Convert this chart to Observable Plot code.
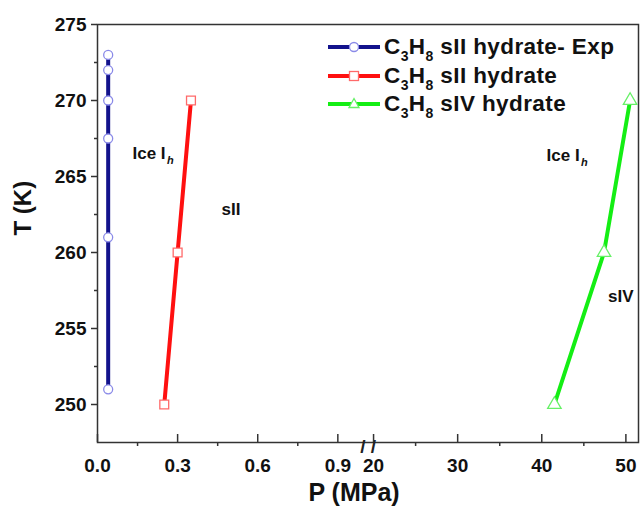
<!DOCTYPE html>
<html>
<head>
<meta charset="utf-8">
<script src="https://cdn.jsdelivr.net/npm/d3@7"></script>
<script src="https://cdn.jsdelivr.net/npm/@observablehq/plot@0.6"></script>
<style>
  html, body { margin: 0; padding: 0; background: #fff; }
  #wrap { position: relative; width: 641px; height: 514px; font-family: "Liberation Sans", Arial, sans-serif; }
  #legend { position: absolute; left: 328px; top: 33px; font-weight: bold; font-size: 22.5px; letter-spacing: 0.4px; color: #111; }
  #legend .row { display: flex; align-items: center; height: 28.5px; white-space: nowrap; }
  #legend svg { margin-right: 4px; flex: none; }
  #legend sub { font-size: 14px; vertical-align: -7px; line-height: 0; }
</style>
</head>
<body>
<div id="wrap"></div>
<script>
// ---- data ----
const expP = [0.04, 0.04, 0.04, 0.04, 0.04, 0.04];
const expT = [251, 261, 267.5, 270, 272, 273];
const sIIP = [0.25, 0.30, 0.35];
const sIIT = [250, 260, 270];
const sIVP = [41.5, 47.4, 50.5];
const sIVT = [250, 260, 270];

const seriesNames = ["C3H8 sII hydrate- Exp", "C3H8 sII hydrate", "C3H8 sIV hydrate"];
const seriesColors = ["#12128c", "#ff1010", "#14ee14"];
const markerColors = ["#8a8ae8", "#ff6a6a", "#66f066"];
const markerSymbols = ["circle", "square", "triangle"];

const xMajor = [0, 0.3, 0.6, 0.9, 20, 30, 40, 50];
const xMajorLabels = ["0.0", "0.3", "0.6", "0.9", "20", "30", "40", "50"];
const xMinor = [0.15, 0.45, 0.75, 25, 35, 45];
const yMajor = [250, 255, 260, 265, 270, 275];
const yMinor = [252.5, 257.5, 262.5, 267.5, 272.5];

const iceLabels = [{p: 0.255, T: 266.5}, {p: 44.5, T: 266.4}];
const phaseLabels = [{p: 0.50, T: 262.8, text: "sII"}, {p: 49.4, T: 257.1, text: "sIV"}];

const breakLeft = 1.0, breakRight = 20, pMax = 51.5;

// ---- broken-axis mapping (left segment 0–1 MPa, right segment 20–51.5 MPa) ----
const leftScale = 266.7;   // units per MPa on left segment
const rightScale = 8.4;    // units per MPa on right segment
const gap = 9;
const brk = p => p <= breakLeft ? p * leftScale : breakLeft * leftScale + gap + (p - breakRight) * rightScale;

const mk = (P, T, s) => P.map((p, i) => ({p, T: T[i], s}));
const series = [mk(expP, expT, 0), mk(sIIP, sIIT, 1), mk(sIVP, sIVT, 2)];

const labelMap = new Map(xMajor.map((v, i) => [brk(v), xMajorLabels[i]]));
const font = "'Liberation Sans', Arial, sans-serif";

const marks = [Plot.frame({stroke: "#333", strokeWidth: 1.5})];
series.forEach((d, i) => {
  marks.push(Plot.line(d, {x: e => brk(e.p), y: "T", stroke: seriesColors[i], strokeWidth: 4}));
});
series.forEach((d, i) => {
  marks.push(Plot.dot(d, {x: e => brk(e.p), y: "T", symbol: () => markerSymbols[i], r: i === 0 ? 4.5 : 5,
    stroke: markerColors[i], fill: "white", strokeWidth: 1.3}));
});
marks.push(
  Plot.text(iceLabels, {x: d => brk(d.p), y: "T", text: () => "Ice I", textAnchor: "end", fontSize: 17, fontWeight: "bold", fill: "#111"}),
  Plot.text(iceLabels, {x: d => brk(d.p), y: "T", text: () => "h", textAnchor: "start", dx: 1.5, dy: 7, fontSize: 11, fontStyle: "italic", fontWeight: "bold", fill: "#111"}),
  Plot.text(phaseLabels, {x: d => brk(d.p), y: "T", text: "text", textAnchor: "middle", fontSize: 17, fontWeight: "bold", fill: "#111"}),
  // axis break mark
  Plot.text([(brk(breakLeft) + brk(breakRight)) / 2], {x: d => d, frameAnchor: "bottom", text: () => "/ /", fontSize: 19, fontWeight: "bold", fill: "#222", dy: 10, dx: -1}),
  // x ticks: majors inward, minors outward
  Plot.tickX(xMajor, {x: d => brk(d), stroke: "#333", strokeWidth: 1.5, insetTop: 410}),
  Plot.axisX(xMinor.map(brk), {tickSize: 4, tickFormat: () => "", stroke: "#333", strokeWidth: 1.5, label: null}),
  Plot.axisX(xMajor.map(brk), {tickSize: 0, tickPadding: 16, tickFormat: v => labelMap.get(v), fontSize: 19, fontWeight: "bold", fill: "#111", label: null}),
  Plot.axisY(yMajor, {tickSize: 6, tickPadding: 5, fontSize: 19, fontWeight: "bold", fill: "#111", stroke: "#333", strokeWidth: 1.5, label: null}),
  Plot.axisY(yMinor, {tickSize: 3, tickFormat: () => "", stroke: "#333", strokeWidth: 1.5, label: null}),
  Plot.text(["P (MPa)"], {frameAnchor: "bottom", dx: -14, dy: 58, fontSize: 25, fontWeight: "bold", fill: "#111"}),
  Plot.text(["T (K)"], {frameAnchor: "left", dx: -74, dy: 2, rotate: -90, fontSize: 24, fontWeight: "bold", fill: "#111"})
);

const chart = Plot.plot({
  width: 641,
  height: 514,
  marginLeft: 97,
  marginRight: 3,
  marginTop: 24,
  marginBottom: 72,
  style: {fontFamily: font, background: "white"},
  x: {domain: [0, brk(pMax)], axis: null},
  y: {domain: [247.5, 275], axis: null},
  marks
});

const wrap = document.getElementById("wrap");
wrap.appendChild(chart);

// ---- legend ----
const legend = document.createElement("div");
legend.id = "legend";
const symSvg = i => {
  const c = seriesColors[i], m = markerColors[i];
  let sym;
  if (i === 0) sym = `<circle cx="26" cy="10" r="4.5" fill="white" stroke="${m}" stroke-width="1.3"/>`;
  else if (i === 1) sym = `<rect x="21.5" y="5.5" width="9" height="9" fill="white" stroke="${m}" stroke-width="1.3"/>`;
  else sym = `<path d="M26,4.5 L31,13.5 L21,13.5 Z" fill="white" stroke="${m}" stroke-width="1.3"/>`;
  return `<svg width="52" height="20"><line x1="0" x2="52" y1="10" y2="10" stroke="${c}" stroke-width="4"/>${sym}</svg>`;
};
seriesNames.forEach((name, i) => {
  const row = document.createElement("div");
  row.className = "row";
  const html = name.replace("C3H8", "C<sub>3</sub>H<sub>8</sub>");
  row.innerHTML = symSvg(i) + `<span>${html}</span>`;
  legend.appendChild(row);
});
wrap.appendChild(legend);
</script>
</body>
</html>
